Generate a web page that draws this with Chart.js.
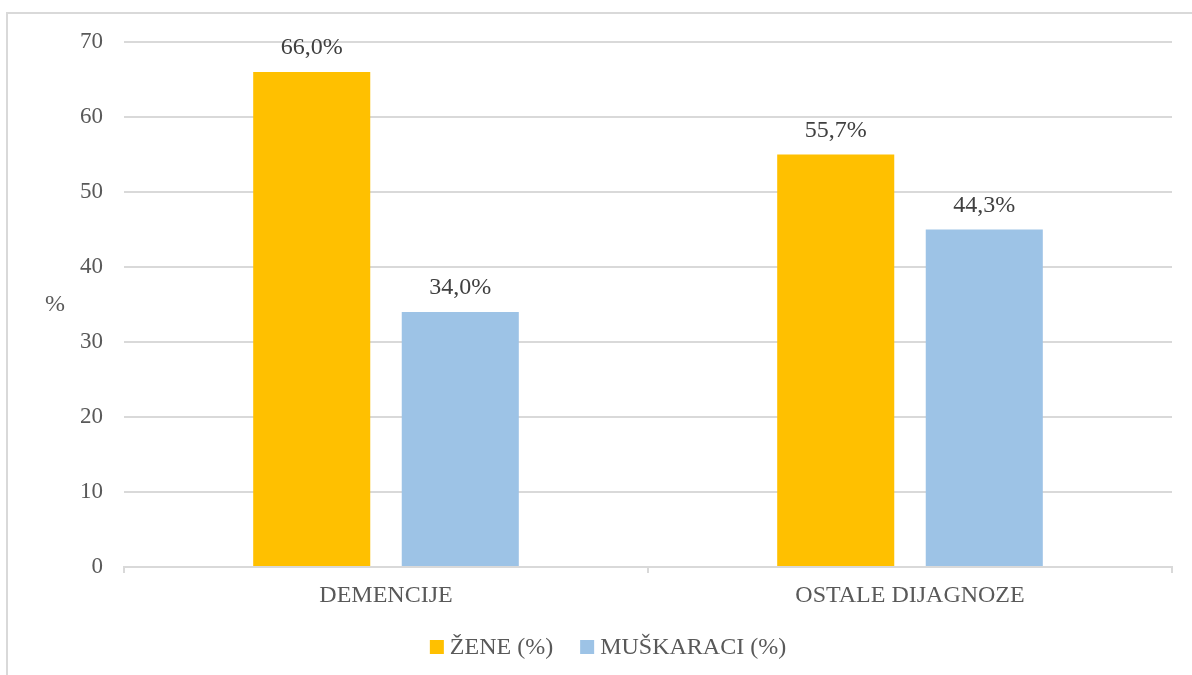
<!DOCTYPE html>
<html>
<head>
<meta charset="utf-8">
<script src="https://cdn.jsdelivr.net/npm/chart.js@4/dist/chart.umd.min.js"></script>
<style>
    body { margin: 0; overflow: hidden; background: #fff; }
    #frame {
        position: absolute; left: 6px; top: 12px; width: 1300px; height: 800px;
        border: 2px solid #d9d9d9; box-sizing: border-box;
    }
    #chart { position: absolute; left: 0; top: 0; }
</style>
</head>
<body>
<div id="frame"></div>
<canvas id="chart" width="1192" height="675"></canvas>
<script>
const categories = ['DEMENCIJE', 'OSTALE DIJAGNOZE'];
const zeneValues = [66, 55];
const muskaraciValues = [34, 45];
const zeneLabels = ['66,0%', '55,7%'];
const muskaraciLabels = ['34,0%', '44,3%'];
const seriesNames = ['ŽENE (%)', 'MUŠKARACI (%)'];
const yTicks = [0, 10, 20, 30, 40, 50, 60, 70];

const FONT = '"Liberation Serif", "Times New Roman", serif';
const TEXT = '#595959';
const GRID = '#d9d9d9';

// labels over each bar (no datalabels plugin available)
const barLabels = {
    id: 'barLabels',
    afterDatasetsDraw(chart) {
        const ctx = chart.ctx;
        const texts = [zeneLabels, muskaraciLabels];
        ctx.save();
        ctx.font = '24px ' + FONT;
        ctx.fillStyle = '#404040';
        ctx.textAlign = 'center';
        ctx.textBaseline = 'middle';
        chart.data.datasets.forEach((ds, i) => {
            chart.getDatasetMeta(i).data.forEach((bar, j) => {
                ctx.fillText(texts[i][j], bar.x, bar.y - 24);
            });
        });
        ctx.restore();
    }
};

// horizontal "%" axis title + Excel-like legend (tight box/text spacing)
const extras = {
    id: 'extras',
    afterDraw(chart) {
        const ctx = chart.ctx;
        const a = chart.chartArea;
        ctx.save();
        ctx.font = '24px ' + FONT;
        ctx.fillStyle = TEXT;
        ctx.textAlign = 'center';
        ctx.textBaseline = 'middle';
        ctx.fillText('%', 55, (a.top + a.bottom) / 2);

        const box = 14, gap = 6, itemGap = 27;
        const items = chart.data.datasets.map(ds => ({
            text: ds.label, color: ds.backgroundColor, w: ctx.measureText(ds.label).width
        }));
        const total = items.reduce((s, it) => s + box + gap + it.w, 0) + itemGap * (items.length - 1);
        let x = 608 - total / 2;
        const y = 647;
        ctx.textAlign = 'left';
        items.forEach(it => {
            ctx.fillStyle = it.color;
            ctx.fillRect(x, y - box / 2, box, box);
            ctx.fillStyle = TEXT;
            ctx.fillText(it.text, x + box + gap, y + 1);
            x += box + gap + it.w + itemGap;
        });
        ctx.restore();
    }
};

new Chart(document.getElementById('chart').getContext('2d'), {
    type: 'bar',
    data: {
        labels: categories,
        datasets: [
            { label: seriesNames[0], data: zeneValues, backgroundColor: '#FFC000' },
            { label: seriesNames[1], data: muskaraciValues, backgroundColor: '#9DC3E6' }
        ]
    },
    options: {
        responsive: false,
        animation: false,
        categoryPercentage: 0.567,
        barPercentage: 0.788,
        layout: { padding: { top: 42, right: 20, left: 0, bottom: 60 } },
        plugins: {
            legend: { display: false },
            tooltip: { enabled: false }
        },
        scales: {
            x: {
                grid: { display: true, drawOnChartArea: false, color: GRID, tickLength: 6, lineWidth: 2 },
                border: { color: GRID, width: 2 },
                ticks: { font: { family: FONT, size: 24 }, color: TEXT, padding: 8 },
                afterFit(scale) { scale.height = 48; }
            },
            y: {
                min: 0,
                max: 70,
                afterBuildTicks(scale) { scale.ticks = yTicks.map(v => ({ value: v })); },
                grid: { color: GRID, drawTicks: false, lineWidth: 2 },
                border: { display: false },
                ticks: { font: { family: FONT, size: 23 }, color: TEXT, padding: 21 },
                afterFit(scale) { scale.width = 124; }
            }
        }
    },
    plugins: [barLabels, extras]
});
</script>
</body>
</html>
